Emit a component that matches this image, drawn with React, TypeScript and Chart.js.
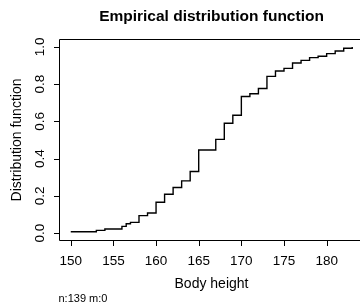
import React, { useEffect, useRef } from "react";
import { Chart, registerables } from "chart.js";

Chart.register(...registerables);

// Data: knots of the empirical distribution function and cumulative counts
const heights = [150, 153, 154, 156, 156.5, 157, 158, 159, 160, 161, 162, 163, 164, 165, 167, 168, 169, 170, 171, 172, 173, 174, 175, 176, 177, 178, 179, 180, 181, 182, 183];
const cumCounts = [1, 2, 3, 5, 7, 8, 13, 15, 23, 29, 34, 39, 46, 62, 70, 82, 88, 102, 104, 108, 117, 121, 123, 127, 129, 131, 132, 134, 136, 138, 139];
const nObs = 139;

const xTicks = [150, 155, 160, 165, 170, 175, 180];
const xTickLabels = ["150", "155", "160", "165", "170", "175", "180"];
const yTicks = [0, 0.2, 0.4, 0.6, 0.8, 1.0];
const yTickLabels = ["0.0", "0.2", "0.4", "0.6", "0.8", "1.0"];

const titleText = "Empirical distribution function";
const xLabel = "Body height";
const yLabel = "Distribution function";
const footnote = "n:139 m:0";

const FONT = "'Liberation Sans', Arial, Helvetica, sans-serif";

const rAxesPlugin = {
  id: "rAxes",
  afterDraw(chart: any) {
    const { ctx, chartArea, scales } = chart;
    const xs = scales.x;
    const ys = scales.y;
    const { left, right, top, bottom } = chartArea;
    ctx.save();
    ctx.strokeStyle = "#000";
    ctx.fillStyle = "#000";
    ctx.lineWidth = 1;
    // box
    ctx.beginPath();
    ctx.rect(left, top, right - left, bottom - top);
    ctx.stroke();

    // x axis ticks + labels
    ctx.font = `13.5px ${FONT}`;
    ctx.textAlign = "center";
    ctx.textBaseline = "alphabetic";
    xTicks.forEach((v, i) => {
      const px = Math.round(xs.getPixelForValue(v)) + 0.5;
      ctx.beginPath();
      ctx.moveTo(px, bottom);
      ctx.lineTo(px, bottom + 5.5);
      ctx.stroke();
      ctx.fillText(xTickLabels[i], xs.getPixelForValue(v), 264.5);
    });

    // y axis ticks + rotated labels
    yTicks.forEach((v, i) => {
      const py = Math.round(ys.getPixelForValue(v)) + 0.5;
      ctx.beginPath();
      ctx.moveTo(left, py);
      ctx.lineTo(left - 5.5, py);
      ctx.stroke();
      ctx.save();
      ctx.translate(44, ys.getPixelForValue(v));
      ctx.rotate(-Math.PI / 2);
      ctx.fillText(yTickLabels[i], 0, 0);
      ctx.restore();
    });

    const cx = (left + right) / 2;
    const cy = (top + bottom) / 2;

    // axis titles
    ctx.font = `14px ${FONT}`;
    ctx.fillText(xLabel, cx, 288);
    ctx.save();
    ctx.translate(20.5, cy);
    ctx.rotate(-Math.PI / 2);
    ctx.fillText(yLabel, 0, 0);
    ctx.restore();

    // main title
    ctx.font = `bold 15.5px ${FONT}`;
    ctx.fillText(titleText, cx, 21);

    // footnote
    ctx.font = `11px ${FONT}`;
    ctx.textAlign = "left";
    ctx.fillText(footnote, 58.5, 301.5);
    ctx.restore();
  },
};

export default function App() {
  const canvasRef = useRef<HTMLCanvasElement | null>(null);

  useEffect(() => {
    const canvas = canvasRef.current;
    if (!canvas) return;
    const points = heights.map((h, i) => ({ x: h, y: cumCounts[i] / nObs }));
    const xMin = heights[0];
    const xMax = heights[heights.length - 1];
    const xr = xMax - xMin;
    const chart = new Chart(canvas, {
      type: "line",
      data: {
        datasets: [
          {
            data: points,
            stepped: "before",
            borderColor: "#000",
            borderWidth: 1.4,
            pointRadius: 0,
            fill: false,
            tension: 0,
          },
        ],
      },
      options: {
        responsive: false,
        animation: false,
        devicePixelRatio: 1,
        layout: { padding: { left: 59.5, top: 39.5, right: 0.5, bottom: 61.5 } },
        scales: {
          x: { type: "linear", min: xMin - 0.04 * xr, max: xMax + 0.04 * xr, display: false },
          y: { type: "linear", min: -0.04, max: 1.04, display: false },
        },
        plugins: {
          legend: { display: false },
          tooltip: { enabled: false },
        },
      },
      plugins: [rAxesPlugin],
    });
    return () => chart.destroy();
  }, []);

  return (
    <div
      style={{
        position: "fixed",
        left: 0,
        top: 0,
        width: 360,
        height: 302,
        overflow: "hidden",
        background: "#fff",
      }}
    >
      <canvas ref={canvasRef} width={364} height={302} style={{ display: "block", width: 364, height: 302 }} />
    </div>
  );
}
